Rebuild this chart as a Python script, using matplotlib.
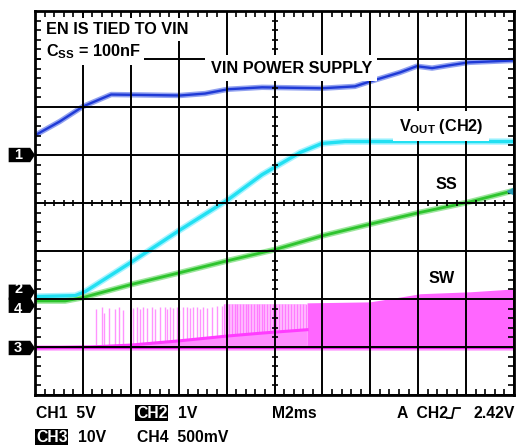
import numpy as np
import matplotlib.pyplot as plt
from matplotlib.patches import Polygon
from matplotlib.lines import Line2D

plt.rcParams['font.family'] = ['Liberation Sans', 'DejaVu Sans']
plt.rcParams['font.weight'] = 'bold'
plt.rcParams['mathtext.fontset'] = 'custom'
plt.rcParams['mathtext.rm'] = 'Liberation Sans:bold'
plt.rcParams['mathtext.it'] = 'Liberation Sans:bold'
plt.rcParams['mathtext.bf'] = 'Liberation Sans:bold'
plt.rcParams['mathtext.default'] = 'rm'

# all values in graticule divisions (x: 0..10, y: 0..8)
vin_x = [0, 0.52, 1.0, 1.59, 3.03, 3.55, 4.03, 4.74, 5.99, 6.68, 6.99, 7.62, 7.97, 8.29, 8.66, 9.06, 10]
vin_y = [5.41, 5.70, 6.01, 6.26, 6.24, 6.28, 6.37, 6.41, 6.39, 6.43, 6.53, 6.72, 6.85, 6.81, 6.87, 6.93, 6.97]

vout_x = [0, 0.84, 1.04, 2.03, 3.03, 4.03, 4.74, 5.53, 5.99, 6.47, 10]
vout_y = [2.05, 2.07, 2.15, 2.78, 3.44, 4.07, 4.59, 5.05, 5.24, 5.28, 5.28]

ss_x = [0, 0.63, 1.0, 2.0, 3.03, 4.03, 5.01, 6.01, 7.04, 8.02, 9.02, 10]
ss_y = [1.96, 1.96, 2.03, 2.30, 2.55, 2.80, 3.03, 3.32, 3.57, 3.80, 4.01, 4.26]

sw_base = 0.98
sw_avg_x = [0, 1.15, 2.0, 3.03, 4.03, 4.74, 5.68]
sw_avg_y = [0.98, 1.0, 1.04, 1.13, 1.23, 1.29, 1.36]

sw_spike_x = [1.27, 1.40, 1.44, 1.54, 1.67, 1.75, 1.84, 2.05, 2.13, 2.19, 2.25, 2.34, 2.44, 2.51,
              2.61, 2.71, 2.76, 2.82, 2.88, 2.96, 3.01, 3.09, 3.17, 3.24, 3.30, 3.38, 3.44, 3.51,
              3.59, 3.70, 3.80, 3.90]
sw_spike_top = [1.80, 1.84, 1.70, 1.82, 1.80, 1.83, 1.78, 1.82, 1.84, 1.80, 1.83, 1.81, 1.84, 1.79,
                1.83, 1.84, 1.80, 1.83, 1.82, 1.84, 1.78, 1.83, 1.84, 1.81, 1.84, 1.83, 1.80, 1.84,
                1.82, 1.84, 1.86, 1.86]

sw_dense_x = [3.95, 4.01, 4.05, 4.11, 4.18, 4.22, 4.28, 4.34, 4.41, 4.45, 4.51, 4.57, 4.63, 4.68,
              4.74, 4.78, 4.84, 4.91, 4.97, 5.03, 5.09, 5.16, 5.22, 5.28, 5.34, 5.41, 5.47, 5.53,
              5.60, 5.66]
sw_dense_top = 1.90

sw_band_x = [5.68, 6.99, 7.68, 8.04, 9.08, 10]
sw_band_y = [1.92, 1.94, 2.05, 2.11, 2.15, 2.21]

marker_names = ['1', '2', '4', '3']
marker_levels = [5.0, 2.15, 1.86, 0.98]

fig = plt.figure(figsize=(5.24, 4.45), dpi=100)
ax = fig.add_axes([35 / 524, 50 / 445, 479 / 524, 384 / 445])
ax.set_xlim(0, 10)
ax.set_ylim(0, 8)

# switching node
ax.fill_between(sw_dense_x, sw_base, sw_dense_top, color='#ffc4ff', lw=0, zorder=1)
ax.vlines(sw_spike_x, sw_base, sw_spike_top, color='#ff94ff', lw=1.0, zorder=1.2)
ax.vlines(sw_dense_x, sw_base, sw_dense_top, color='#ff7cff', lw=1.0, zorder=1.2)
ax.fill_between(sw_band_x, sw_base, sw_band_y, color='#ff66ff', lw=0, zorder=1.3)
ax.fill_between(sw_avg_x, sw_base, sw_avg_y, color='#ff8cff', lw=0, zorder=1.4)
ax.plot(sw_avg_x, sw_avg_y, color='#ff3cff', lw=2.2, zorder=1.45)
ax.plot([0, 10], [sw_base, sw_base], color='#ffa8ff', lw=4, zorder=1.1)
ax.plot([0, 10], [sw_base, sw_base], color='#ee22ee', lw=1.6, zorder=1.5)

# VIN, VOUT, SS
for xs, ys, core, halo, lw in [(vin_x, vin_y, '#1f3ad6', '#92a2f0', 1.7),
                               (vout_x, vout_y, '#22e0f2', '#a6f3ff', 2.4),
                               (ss_x, ss_y, '#2ec42e', '#9ce69c', 2.0)]:
    ax.plot(xs, ys, color=halo, lw=lw + 2.2, solid_capstyle='butt', zorder=2)
    ax.plot(xs, ys, color=core, lw=lw, solid_capstyle='butt', zorder=2.5)

ax.plot([9.93], [ss_y[-1]], marker='<', ms=6, color='#2a9cb8', zorder=3)

# graticule
ax.set_xticks(range(11))
ax.set_yticks(range(9))
ax.set_xticks(np.arange(0, 10.01, 0.2), minor=True)
ax.set_yticks(np.arange(0, 8.01, 0.2), minor=True)
ax.set_xticklabels([])
ax.set_yticklabels([])
ax.tick_params(which='major', length=0)
ax.tick_params(which='minor', direction='in', length=4, width=1.2, top=True, right=True)
ax.grid(True, which='major', color='black', lw=1.4, zorder=4)
ax.set_axisbelow(False)
for s in ax.spines.values():
    s.set_linewidth(2)
    s.set_zorder(5)

cx = np.arange(0.2, 10, 0.2)
cy = np.arange(0.2, 8, 0.2)
ax.plot(cx, np.full_like(cx, 4.0), ls='none', marker='|', ms=5, mew=1.2, color='black', zorder=4)
ax.plot(np.full_like(cy, 5.0), cy, ls='none', marker='_', ms=5, mew=1.2, color='black', zorder=4)

# labels inside the screen
box = dict(facecolor='white', edgecolor='none', pad=3)
fs = 11.7
ax.text(0.22, 7.62, 'EN IS TIED TO VIN', fontsize=fs, ha='left', va='center', bbox=box, zorder=6)
ax.text(0.22, 7.16, 'C$_{SS}$ = 100nF', fontsize=fs, ha='left', va='center', bbox=box, zorder=6)
ax.text(5.35, 6.81, 'VIN POWER SUPPLY', fontsize=fs, ha='center', va='center',
        bbox=dict(facecolor='white', edgecolor='none', pad=4), zorder=6)
ax.text(8.48, 5.60, 'V$_{OUT}$ (CH2)', fontsize=fs, ha='center', va='center',
        bbox=dict(facecolor='white', edgecolor='none', pad=4), zorder=6)
ax.text(8.58, 4.38, 'SS', fontsize=fs, ha='center', va='center', zorder=6)
ax.text(8.48, 2.42, 'SW', fontsize=fs, ha='center', va='center', zorder=6)

# channel markers
for name, lvl in zip(marker_names, marker_levels):
    h = 0.15
    if name == '2':
        pts = [(-0.55, lvl - 0.02 - h), (-0.55, lvl + h), (-0.1, lvl + h), (0, lvl), (-0.1, lvl - 0.02 - h)]
    elif name == '4':
        pts = [(-0.55, lvl - h), (-0.55, lvl + h + 0.02), (-0.1, lvl + h + 0.02), (0, lvl), (-0.1, lvl - h)]
    else:
        pts = [(-0.55, lvl - h), (-0.55, lvl + h), (-0.1, lvl + h), (0, lvl), (-0.1, lvl - h)]
    ax.add_patch(Polygon(pts, closed=True, facecolor='black', edgecolor='none', clip_on=False, zorder=7))
    ty = lvl + 0.05 if name == '2' else (lvl - 0.06 if name == '4' else lvl)
    ax.text(-0.35, ty, name, color='white', fontsize=10.5, ha='center', va='center', clip_on=False, zorder=8)

# scope settings below the screen
def ftxt(px, py, s, inv=False, ha='left'):
    kw = {}
    if inv:
        kw = dict(color='white', bbox=dict(facecolor='black', edgecolor='none', pad=0.6))
    fig.text(px / 524, 1 - py / 445, s, fontsize=11.3, ha=ha, va='center', **kw)

ftxt(36, 413, 'CH1  5V')
ftxt(136, 413, 'CH2', inv=True)
ftxt(178, 413, '1V')
ftxt(36, 437, 'CH3', inv=True)
ftxt(78, 437, '10V')
ftxt(137, 437, 'CH4  500mV')
ftxt(272, 413, 'M2ms')
ftxt(397, 413, 'A  CH2')
ftxt(515, 413, '2.42V', ha='right')
fig.add_artist(Line2D(np.array([447, 452, 454, 460]) / 524, 1 - np.array([418, 418, 408, 408]) / 445,
                      color='black', lw=1.3))

fig.savefig('out.png', dpi=100)
